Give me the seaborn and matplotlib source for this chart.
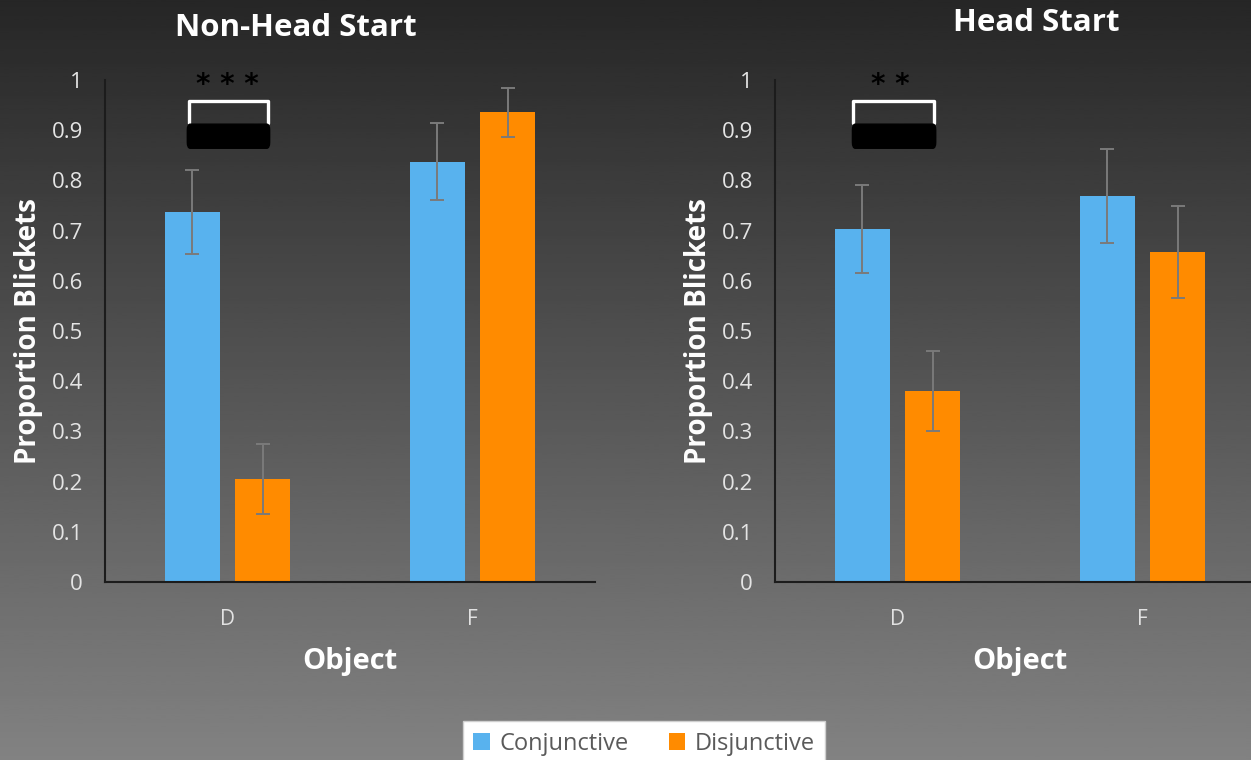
import numpy as np
import pandas as pd
import matplotlib
matplotlib.use("Agg")
import matplotlib.pyplot as plt
from matplotlib.patches import Patch, FancyBboxPatch
import seaborn as sns

# ---- data -------------------------------------------------------------
objects = ["D", "F"]
conditions = ["Conjunctive", "Disjunctive"]

non_head_conj = [0.737, 0.837]
non_head_disj = [0.205, 0.936]
non_head_conj_err = [0.083, 0.077]
non_head_disj_err = [0.070, 0.049]

head_conj = [0.703, 0.769]
head_disj = [0.380, 0.657]
head_conj_err = [0.087, 0.093]
head_disj_err = [0.080, 0.092]

panel_titles = ["Non-Head Start", "Head Start"]
significance = ["* * *", "* *"]

y_ticks = [0, 0.1, 0.2, 0.3, 0.4, 0.5, 0.6, 0.7, 0.8, 0.9, 1]
y_tick_labels = ["0", "0.1", "0.2", "0.3", "0.4", "0.5", "0.6", "0.7", "0.8", "0.9", "1"]

palette = {"Conjunctive": "#58b2ee", "Disjunctive": "#ff8b00"}

# ---- styling ----------------------------------------------------------
sns.set_theme(style="white")
plt.rcParams["font.family"] = ["Open Sans", "DejaVu Sans"]

W, H = 1251, 760
fig = plt.figure(figsize=(W / 100, H / 100), dpi=100)

# vertical grey gradient background
bg = fig.add_axes([0, 0, 1, 1], zorder=-10)
grad = np.linspace(0.15, 0.51, 256).reshape(-1, 1)
bg.imshow(grad, cmap="gray", vmin=0, vmax=1, aspect="auto",
          extent=[0, 1, 0, 1], origin="upper")
bg.set_axis_off()


def panel_frame(conj, disj, conj_err, disj_err):
    rows = []
    for obj, v, e in zip(objects, conj, conj_err):
        rows.append({"Object": obj, "Condition": "Conjunctive", "value": v, "err": e})
    for obj, v, e in zip(objects, disj, disj_err):
        rows.append({"Object": obj, "Condition": "Disjunctive", "value": v, "err": e})
    return pd.DataFrame(rows)


panels = [
    panel_frame(non_head_conj, non_head_disj, non_head_conj_err, non_head_disj_err),
    panel_frame(head_conj, head_disj, head_conj_err, head_disj_err),
]

ax_left = [105 / W, 775 / W]
ax_w = 490 / W
ax_bottom = 1 - 582 / H
ax_h = (582 - 80) / H
title_x = [296 / W, 1036 / W]
title_y = [1 - 28 / H, 1 - 23 / H]
bracket_x = [(-0.156, 0.164), (-0.180, 0.148)]
box_x = [(-0.164, 0.172), (-0.184, 0.156)]
star_x = [0.0, -0.03]

for i, df in enumerate(panels):
    ax = fig.add_axes([ax_left[i], ax_bottom, ax_w, ax_h])
    ax.set_facecolor("none")
    sns.barplot(data=df, x="Object", y="value", hue="Condition",
                order=objects, hue_order=conditions, palette=palette,
                width=0.574, gap=0.214, errorbar=None, saturation=1,
                linewidth=0, legend=False, ax=ax)

    # error bars at each bar's centre
    for p in ax.patches:
        h = p.get_height()
        match = df.iloc[(df["value"] - h).abs().argsort().iloc[0]]
        xc = p.get_x() + p.get_width() / 2
        ax.errorbar(xc, match["value"], yerr=match["err"], fmt="none",
                    ecolor="#7a7a7a", elinewidth=1.4, capsize=5, capthick=1.4,
                    zorder=5)

    ax.set_ylim(0, 1)
    ax.set_xlim(-0.5, 1.5)
    ax.set_yticks(y_ticks)
    ax.set_yticklabels(y_tick_labels)
    ax.tick_params(axis="y", length=0, pad=16, labelsize=16, labelcolor="#e4e4e4")
    ax.tick_params(axis="x", length=0, pad=19.5, labelsize=15, labelcolor="#e2e2e2")
    for s in ["top", "right"]:
        ax.spines[s].set_visible(False)
    for s in ["left", "bottom"]:
        ax.spines[s].set_color("#1c1c1c")
        ax.spines[s].set_linewidth(1.5)

    ax.set_xlabel("Object", fontsize=21, fontweight="bold", color="white", labelpad=12)
    ax.set_ylabel("Proportion Blickets", fontsize=20, fontweight="bold",
                  color="white", labelpad=6)

    # significance bracket with a dark label box beneath it
    x0, x1 = bracket_x[i]
    ax.plot([x0, x0, x1, x1], [0.915, 0.958, 0.958, 0.915], color="white",
            lw=2.4, solid_joinstyle="round", zorder=6, clip_on=False)
    bx0, bx1 = box_x[i]
    ax.add_patch(FancyBboxPatch((bx0, 0.864), bx1 - bx0, 0.048,
                                boxstyle="round,pad=0,rounding_size=0.012",
                                facecolor="black", edgecolor="black",
                                zorder=7, clip_on=False))
    ax.text(star_x[i], 0.99, significance[i], ha="center", va="center",
            fontsize=20, fontweight="bold", color="black",
            family="DejaVu Sans", clip_on=False)

    fig.text(title_x[i], title_y[i], panel_titles[i], ha="center", va="center",
             fontsize=22.5, fontweight="bold", color="white")

# legend
handles = [Patch(facecolor=palette[c], edgecolor="none", label=c) for c in conditions]
leg = fig.legend(handles=handles, loc="lower center", bbox_to_anchor=(644 / W, -0.024),
                 ncol=2, frameon=True, fancybox=False, fontsize=17,
                 handlelength=0.7, handleheight=0.7, handletextpad=0.4,
                 columnspacing=1.7, borderpad=0.45)
leg.get_frame().set_facecolor("white")
leg.get_frame().set_edgecolor("#cfcfcf")
leg.get_frame().set_alpha(1)
for t in leg.get_texts():
    t.set_color("#5a5a5a")

fig.savefig("out.png", dpi=100)
